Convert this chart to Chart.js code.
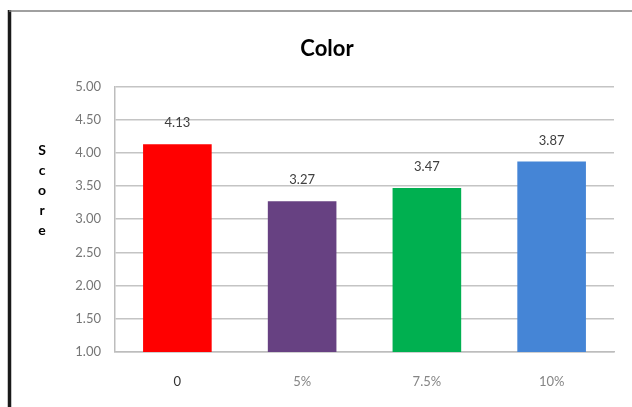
<!DOCTYPE html>
<html>
<head>
<meta charset="utf-8">
<title>Color</title>
<script src="https://cdn.jsdelivr.net/npm/chart.js@4.4.1/dist/chart.umd.min.js"></script>
<style>
    html, body { margin: 0; padding: 0; background: #fff; }
    #wrap { width: 632px; height: 407px; }
</style>
</head>
<body>
<div id="wrap"><canvas id="bar-chart" width="632" height="407"></canvas></div>
<script>
    "use strict";

    // Data
    var categories = ["0", "5%", "7.5%", "10%"];
    var scores = [4.13, 3.27, 3.47, 3.87];
    var yTicks = [1.0, 1.5, 2.0, 2.5, 3.0, 3.5, 4.0, 4.5, 5.0];
    var axisTitle = ["S", "c", "o", "r", "e"];

    var barColors = ["#ff0000", "#674182", "#00b050", "#4585d6"];
    var tickColors = ["#333333", "#858585", "#858585", "#858585"];
    var fontFamily = "Lato, 'Open Sans', sans-serif";

    // Frame: thick black line on the left, thin grey line on top
    var framePlugin = {
        id: "frame",
        beforeDraw: function (chart) {
            var ctx = chart.ctx;
            ctx.save();
            ctx.fillStyle = "#ffffff";
            ctx.fillRect(0, 0, chart.width, chart.height);
            ctx.strokeStyle = "#1a1a1a";
            ctx.lineWidth = 3.5;
            ctx.beginPath();
            ctx.moveTo(9.5, 10);
            ctx.lineTo(9.5, chart.height);
            ctx.stroke();
            ctx.strokeStyle = "#808080";
            ctx.lineWidth = 1.5;
            ctx.beginPath();
            ctx.moveTo(9, 11);
            ctx.lineTo(chart.width, 11);
            ctx.stroke();
            ctx.restore();
        },
    };

    // Value labels above the bars and the stacked "Score" title
    var labelPlugin = {
        id: "valueLabels",
        afterDatasetsDraw: function (chart) {
            var ctx = chart.ctx;
            var meta = chart.getDatasetMeta(0);
            ctx.save();
            ctx.font = "13px " + fontFamily;
            ctx.fillStyle = "#404040";
            ctx.textAlign = "center";
            ctx.textBaseline = "middle";
            meta.data.forEach(function (bar, i) {
                ctx.fillText(scores[i].toFixed(2), bar.x, bar.y - 21);
            });

            ctx.font = "bold 14px " + fontFamily;
            ctx.fillStyle = "#000000";
            axisTitle.forEach(function (ch, i) {
                ctx.fillText(ch, 42, 150 + i * 20);
            });
            ctx.restore();
        },
    };

    var ctx = document.getElementById("bar-chart").getContext("2d");
    var myChart = new Chart(ctx, {
        type: "bar",
        data: {
            labels: categories,
            datasets: [
                {
                    label: "Score",
                    data: scores,
                    backgroundColor: barColors,
                    borderWidth: 0,
                    categoryPercentage: 1.0,
                    barPercentage: 0.55,
                },
            ],
        },
        options: {
            responsive: false,
            animation: false,
            layout: {
                padding: { left: 40, right: 18, top: 0, bottom: 0 },
            },
            scales: {
                x: {
                    grid: { display: false, drawTicks: false },
                    border: { display: true, color: "#bdbdbd", width: 1.5 },
                    ticks: {
                        color: tickColors,
                        font: { family: fontFamily, size: 13 },
                        padding: 22,
                    },
                    afterFit: function (scale) {
                        scale.height = 55;
                    },
                },
                y: {
                    min: 1,
                    max: 5,
                    afterBuildTicks: function (scale) {
                        scale.ticks = yTicks.map(function (v) {
                            return { value: v };
                        });
                    },
                    grid: { color: "#c4c4c4", lineWidth: 1.5, drawTicks: false },
                    border: { display: true, color: "#bdbdbd", width: 1.5 },
                    ticks: {
                        color: "#767676",
                        font: { family: fontFamily, size: 13 },
                        padding: 14,
                        callback: function (v) {
                            return Number(v).toFixed(2);
                        },
                    },
                    afterFit: function (scale) {
                        scale.width = 75;
                    },
                },
            },
            plugins: {
                legend: { display: false },
                tooltip: { enabled: false },
                title: {
                    display: true,
                    text: "Color",
                    color: "#000000",
                    font: { family: fontFamily, size: 22, weight: "bold" },
                    padding: { top: 36, bottom: 24 },
                },
            },
        },
        plugins: [framePlugin, labelPlugin],
    });
</script>
</body>
</html>
